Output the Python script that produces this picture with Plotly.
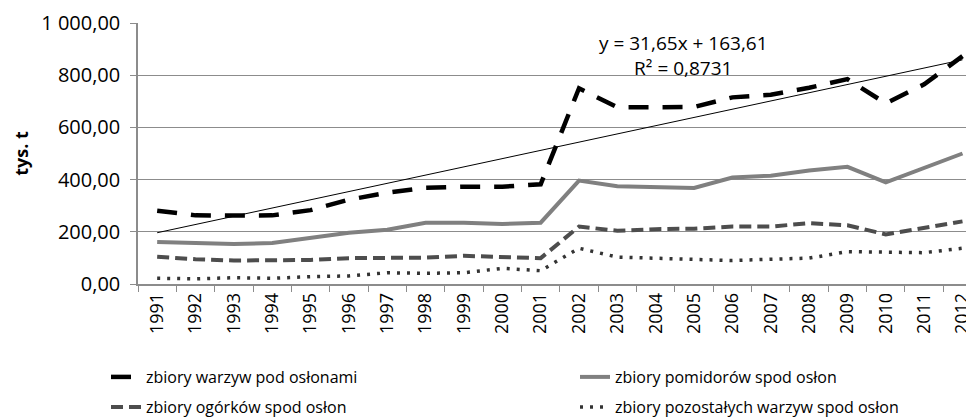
import numpy as np
import plotly.graph_objects as go

years = [str(y) for y in range(1991, 2013)]
warzywa = [281, 263, 262, 263, 283, 323, 350, 369, 373, 373, 382,
           750, 677, 676, 678, 715, 725, 752, 785, 692, 765, 873]
pomidory = [161, 157, 153, 157, 177, 196, 208, 235, 235, 230, 235,
            396, 375, 372, 368, 408, 415, 435, 449, 389, 445, 500]
ogorki = [104, 95, 90, 90, 92, 99, 101, 101, 108, 103, 99,
          220, 204, 210, 212, 220, 220, 233, 225, 190, 215, 240]
pozostale = [22, 20, 24, 22, 28, 31, 43, 41, 43, 60, 51,
             137, 103, 99, 95, 90, 95, 99, 124, 122, 120, 137]
y_ticks = [0, 200, 400, 600, 800, 1000]
trend_text = "y = 31,65x + 163,61<br>R² = 0,8731"

FONT = "Open Sans"

# linear trend of the main series (Excel-style x = 1..n)
xi = np.arange(1, len(warzywa) + 1)
a, b = np.polyfit(xi, warzywa, 1)
trend = list(a * xi + b)

# figure is drawn inside a page with an 8px body margin
W, H = 966, 412

fig = go.Figure()
fig.add_trace(go.Scatter(x=years, y=warzywa, mode="lines", name="zbiory warzyw pod osłonami",
                         line=dict(color="#000000", width=4.5, dash="20px,14px"), legend="legend"))
fig.add_trace(go.Scatter(x=years, y=pomidory, mode="lines", name="zbiory pomidorów spod osłon",
                         line=dict(color="#808080", width=4), legend="legend2"))
fig.add_trace(go.Scatter(x=years, y=ogorki, mode="lines", name="zbiory ogórków spod osłon",
                         line=dict(color="#4d4d4d", width=4, dash="12px,6px"), legend="legend3"))
fig.add_trace(go.Scatter(x=years, y=pozostale, mode="lines", name="zbiory pozostałych warzyw spod osłon",
                         line=dict(color="#333333", width=3.5, dash="3px,7px"), legend="legend4"))
fig.add_trace(go.Scatter(x=years, y=trend, mode="lines", showlegend=False,
                         line=dict(color="#000000", width=1)))

fig.add_annotation(x=0.652, y=0.875, xref="paper", yref="paper", text=trend_text,
                   xanchor="center", yanchor="middle",
                   showarrow=False, align="center",
                   font=dict(family=FONT, size=19, color="#000000"))

grid = "#8c8c8c"


def leg(xpix, ypix):
    return dict(orientation="h", xref="container", yref="container",
                x=xpix / W, xanchor="left", y=1 - ypix / H, yanchor="middle",
                itemwidth=30, font=dict(family=FONT, size=16), bgcolor="rgba(0,0,0,0)")


fig.update_layout(
    width=W, height=H,
    margin=dict(l=130, r=0, t=15, b=136, autoexpand=False),
    paper_bgcolor="white", plot_bgcolor="white",
    separators=", ",
    font=dict(family=FONT, size=17, color="#000000"),
    xaxis=dict(type="category", range=[-0.5, 21.3], tickson="boundaries", automargin=False,
               ticks="outside", ticklen=6, tickcolor=grid, tickangle=-90,
               showline=True, linecolor=grid, linewidth=1.5, showgrid=False,
               tickfont=dict(family=FONT, size=18)),
    yaxis=dict(range=[0, 1000], tickvals=y_ticks, tickformat=",.2f", automargin=False,
               ticks="outside", ticklen=6, tickcolor=grid, ticklabelstandoff=6,
               showline=True, linecolor=grid, linewidth=1.5,
               showgrid=True, gridcolor=grid, gridwidth=1, zeroline=False,
               tickfont=dict(family=FONT, size=20),
               title=dict(text="<b>tys. t</b>", standoff=8,
                          font=dict(family=FONT, size=18))),
    legend=leg(98, 369),
    legend2=leg(567, 369),
    legend3=leg(98, 399),
    legend4=leg(567, 399),
)

fig.write_html("out.html")
